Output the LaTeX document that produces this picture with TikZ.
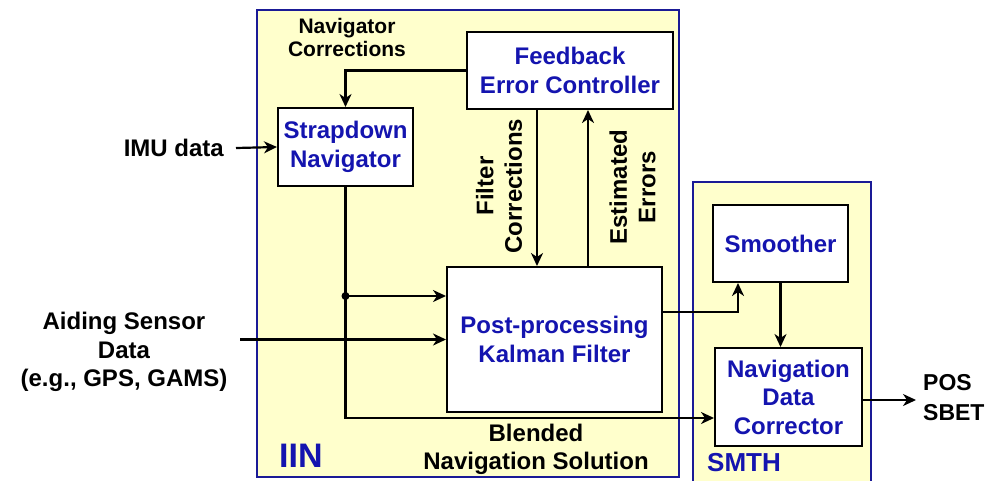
\documentclass[tikz,border=0pt]{standalone}
\usepackage{fontspec}
\setmainfont{Liberation Sans}
\usetikzlibrary{arrows.meta,calc}
\definecolor{boxfill}{RGB}{255,255,204}
\definecolor{navyline}{RGB}{26,26,150}
\definecolor{bluetext}{RGB}{20,20,175}
\tikzset{
  every node/.style={font=\bfseries, inner sep=0pt},
  region/.style={draw=navyline, fill=boxfill, line width=2pt},
  block/.style={draw=black, fill=white, line width=2pt, align=center, text=bluetext,
    font=\bfseries\fontsize{24}{28.5}\selectfont},
  lbl/.style={align=center, text=black, font=\bfseries\fontsize{24}{28.5}\selectfont},
  slbl/.style={align=center, text=black, font=\bfseries\fontsize{21}{23}\selectfont},
  arr/.style={draw=black, line width=2.2pt, -{Stealth[length=13pt,width=12pt,inset=4pt]}},
  wire/.style={draw=black, line width=2.2pt}
}
\begin{document}
\begin{tikzpicture}[x=1pt,y=-1pt]
\useasboundingbox (0,0) rectangle (988,480);
% regions
\draw[region] (257,10) rectangle (679,477);
\draw[region] (693,182) rectangle (871,495);
% blocks
\node[block, minimum width=206pt, minimum height=77pt] (fb) at (570,70.5) {Feedback\\Error Controller};
\node[block, minimum width=135pt, minimum height=78pt] (sn) at (345.5,147) {Strapdown\\Navigator};
\node[block, minimum width=215pt, minimum height=145pt] (kf) at (554.5,339.5) {Post-processing\\Kalman Filter};
\node[block, minimum width=135pt, minimum height=77pt] (sm) at (780.5,243.5) {Smoother};
\node[block, minimum width=147pt, minimum height=98pt] (ndc) at (788.5,397) {Navigation\\Data\\Corrector};
% labels
\node[slbl] (navc) at (347,37.5) {Navigator\\Corrections};
\node[lbl, rotate=90] (fc) at (499,186) {Filter\\Corrections};
\node[lbl, rotate=90] (ee) at (632.5,187) {Estimated\\Errors};
\node[lbl] (bns) at (536,449.5) {Blended\\Navigation Solution};
\node[lbl, anchor=east] (imu) at (224,148) {IMU data};
\node[lbl] (aid) at (124,352) {Aiding Sensor\\Data\\(e.g., GPS, GAMS)};
\node[lbl, align=left, anchor=west, font=\bfseries\fontsize{23}{30}\selectfont] (pos) at (923,398) {POS\\SBET};
\node[anchor=west, text=bluetext, font=\bfseries\fontsize{34}{34}\selectfont] (iin) at (279,456) {IIN};
\node[anchor=west, text=bluetext, font=\bfseries\fontsize{26}{26}\selectfont] (smth) at (707,463) {SMTH};
% connectors
\draw[arr] (fb.west) -| (sn.north);
\coordinate (imustart) at (236,148);
\draw[arr] (imustart) -- (sn.west);
\coordinate (j) at (sn.south |- 0,296);
\draw[arr] (sn.south) |- (ndc.west |- 0,418);
\fill (j) circle (4pt);
\draw[arr] (j) -- (j -| kf.west);
\coordinate (aidstart) at (240,339.5);
\draw[arr] (aidstart) -- (kf.west);
\draw[arr] (fb.south -| 537,0) -- (kf.north -| 537,0);
\draw[arr] (kf.north -| 588,0) -- (fb.south -| 588,0);
\draw[arr] (kf.east |- 0,312) -| (sm.south -| 738,0);
\draw[arr] (sm.south) -- (sm.south |- ndc.north);
\coordinate (outend) at (916,400);
\draw[arr] (ndc.east |- outend) -- (outend);
\end{tikzpicture}
\end{document}
